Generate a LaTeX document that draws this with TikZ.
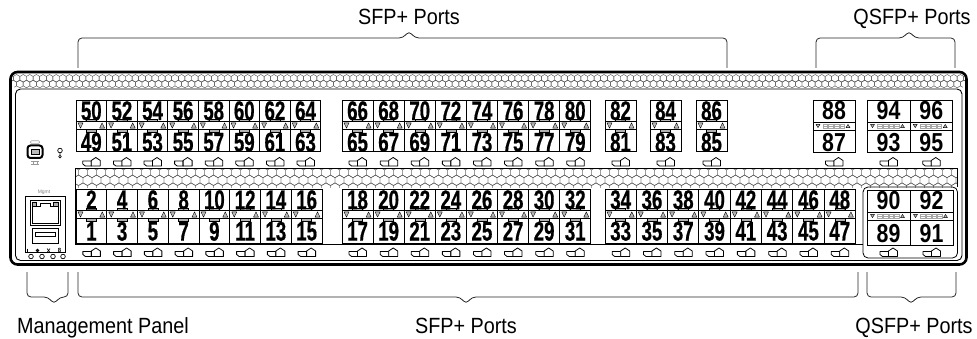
\documentclass[tikz,border=0pt]{standalone}
\usepackage{fontspec}
\setmainfont{Liberation Sans}
\newfontfamily\numfont{Liberation Sans}[FakeStretch=0.69,FakeBold=0.6]
\newfontfamily\qnumfont{Liberation Sans}[FakeStretch=0.82]
\newfontfamily\lblfont{Liberation Sans}[FakeStretch=0.9]
\newcommand\porticon[2]{%
\draw[icon] (#1-8.5,#2-5) -- (#1-8.5,#2-2) -- (#1-6,#2) -- (#1,#2) -- (#1,#2-5) -- cycle;
\draw[icon] (#1,#2) -- (#1,#2-5.5) -- (#1+4.5,#2-8.5) -- (#1+9,#2-5.5) -- (#1+9,#2) -- cycle;
}
\newcommand\sfpcell[7]{%
\pgfmathsetmacro\xa{#1}\pgfmathsetmacro\xb{#1+#2}\pgfmathsetmacro\xc{#1+#2/2}%
\pgfmathsetmacro\ya{#3}\pgfmathsetmacro\yb{#3+21.5}\pgfmathsetmacro\yc{#3+29.5}\pgfmathsetmacro\ym{#3+25.5}%
\draw[cell] (\xa,\ya) rectangle (\xb,#4);
\draw[cell] (\xa,\yb) -- (\xb,\yb) (\xa,\yc) -- (\xb,\yc);
\draw[led] (\xc-5,\yb-2.4) rectangle (\xc+5,\yb);
\draw[led] (\xc-5,\yc) rectangle (\xc+5,\yc+2.4);
\draw[tri] (\xa+2,\ym-2.6) -- (\xa+7,\ym-2.6) -- (\xa+4.5,\ym+2.6) -- cycle;
\draw[tri] (\xb-2,\ym+2.6) -- (\xb-7,\ym+2.6) -- (\xb-4.5,\ym-2.6) -- cycle;
\node[numtxt] (p#5) at (\xc,\ya+10.8) {#5};
\node[numtxt] (p#6) at (\xc,\ya+42.3) {#6};
\porticon{\xc}{#7}%
}
\newcommand\qsfpcell[7]{%
\pgfmathsetmacro\xa{#1}\pgfmathsetmacro\xb{#1+#2}\pgfmathsetmacro\xc{#1+#2/2}%
\pgfmathsetmacro\ya{#3}\pgfmathsetmacro\yb{#3+22}\pgfmathsetmacro\yc{#3+30}\pgfmathsetmacro\ym{#3+26}%
\pgfmathsetmacro\yn{(#3+30+#4)/2+1.5}%
\draw[cell] (\xa,\ya) rectangle (\xb,#4);
\draw[cell] (\xa,\yb) -- (\xb,\yb) (\xa,\yc) -- (\xb,\yc);
\draw[tri] (\xc-18,\ym-1.6) -- (\xc-14,\ym-1.6) -- (\xc-16,\ym+1.6) -- cycle;
\draw[tri] (\xc+12,\ym+1.6) -- (\xc+16,\ym+1.6) -- (\xc+14,\ym-1.6) -- cycle;
\foreach \k in {0,...,3} {\draw[seg] (\xc-11+5.6*\k,\ym-2) rectangle ++(4.6,4) (\xc-11+5.6*\k,\ym) -- ++(4.6,0);}
\node[qnumtxt] (p#5) at (\xc,\ya+11) {#5};
\node[qnumtxt] (p#6) at (\xc,\yn) {#6};
\porticon{\xc}{#7}%
}
\begin{document}
\begin{tikzpicture}[x=1pt,y=-1pt,
  cell/.style={draw=black, line width=0.9pt},
  led/.style={draw=black, fill=gray!60, line width=0.4pt},
  tri/.style={draw=black, fill=gray!55, line width=0.4pt, line join=round},
  seg/.style={draw=gray!70, line width=0.4pt},
  icon/.style={draw=black, fill=white, line width=0.8pt, line join=round},
  numtxt/.style={font=\numfont\bfseries\fontsize{27}{27}\selectfont, inner sep=0pt},
  qnumtxt/.style={font=\qnumfont\bfseries\fontsize{26}{26}\selectfont, inner sep=0pt},
  hexline/.style={draw=black!65, line width=0.45pt},
  bracket/.style={draw=black!85, line width=0.8pt, rounded corners=4pt},
  lbl/.style={font=\lblfont\fontsize{22}{22}\selectfont, inner sep=0pt, anchor=base},
  thinline/.style={draw=black, line width=0.8pt}]
\path[use as bounding box] (0,0) rectangle (977,339);
% top hex band
\begin{scope}
\clip[rounded corners=6pt] (11,73) rectangle (966,88);
\foreach \row/\off in {0/0,1/3.3} {
  \foreach \k in {0,...,146} {
    \draw[hexline] ({10+\off+6.6*\k},{78.3+5.7*\row}) +(30:3.8) -- +(90:3.8) -- +(150:3.8) -- +(210:3.8) -- +(270:3.8) -- +(330:3.8) -- cycle;
  }
}
\end{scope}
% chassis
\draw[line width=2.6pt, rounded corners=7pt] (10.5,72) rectangle (966.5,264.5);
\draw[line width=0.9pt, rounded corners=5pt] (15.5,89) rectangle (962,260.5);
% lower hex band
\begin{scope}
\clip (75.5,168.5) rectangle (957.5,187.3);
\foreach \row/\off in {0/0,1/4.5,2/0} {
  \foreach \k in {0,...,99} {
    \draw[hexline] ({74+\off+9*\k},{172.5+7.8*\row}) +(30:5.2) -- +(90:5.2) -- +(150:5.2) -- +(210:5.2) -- +(270:5.2) -- +(330:5.2) -- cycle;
  }
}
\end{scope}
\draw[thinline] (75,244) -- (75,168) -- (957.5,168) -- (957.5,187);
\draw[thinline] (75,244) -- (863,244);
\draw[thinline, rounded corners=5pt] (863,187) rectangle (957.5,258);
% upper SFP groups
\foreach \i in {0,...,7} {
  \pgfmathtruncatemacro\ptop{50+2*\i}\pgfmathtruncatemacro\pbot{49+2*\i}
  \sfpcell{76+30.6*\i}{30.6}{100}{151}{\ptop}{\pbot}{166}
}
\foreach \i in {0,...,7} {
  \pgfmathtruncatemacro\ptop{66+2*\i}\pgfmathtruncatemacro\pbot{65+2*\i}
  \sfpcell{342+31.1*\i}{31.1}{100}{151}{\ptop}{\pbot}{166}
}
\foreach \xx/\ptop/\pbot in {605/82/81,650/84/83,696/86/85} {
  \sfpcell{\xx}{31}{100}{151}{\ptop}{\pbot}{166}
}
% lower SFP groups
\foreach \i in {0,...,7} {
  \pgfmathtruncatemacro\ptop{2+2*\i}\pgfmathtruncatemacro\pbot{1+2*\i}
  \sfpcell{76+30.75*\i}{30.75}{189}{243}{\ptop}{\pbot}{256.5}
}
\foreach \i in {0,...,7} {
  \pgfmathtruncatemacro\ptop{18+2*\i}\pgfmathtruncatemacro\pbot{17+2*\i}
  \sfpcell{342+31.1*\i}{31.1}{189}{243}{\ptop}{\pbot}{256.5}
}
\foreach \i in {0,...,7} {
  \pgfmathtruncatemacro\ptop{34+2*\i}\pgfmathtruncatemacro\pbot{33+2*\i}
  \sfpcell{605+31.3*\i}{31.3}{189}{243}{\ptop}{\pbot}{256.5}
}
% QSFP
\qsfpcell{813}{42}{100}{152}{88}{87}{166}
\qsfpcell{867}{43}{100}{152}{94}{93}{166}
\qsfpcell{910}{42.5}{100}{152}{96}{95}{166}
\qsfpcell{867}{43}{190}{245}{90}{89}{256.5}
\qsfpcell{910}{43}{190}{245}{92}{91}{256.5}
% management: console + reset
\draw[gray!70, line width=0.6pt, rounded corners=1pt] (30.5,140.8) rectangle (39.5,143.4);
\draw[line width=2pt, rounded corners=3pt] (27.5,145.5) rectangle (42.5,158);
\draw[fill=gray!55, line width=0.6pt] (31,149.5) rectangle (39,154);
\draw[gray!80, line width=0.5pt] (31,161.5) -- (39,161.5) (31,164.5) -- (39,164.5) (33,161.5) -- (33,164.5) (37,161.5) -- (37,164.5);
\draw[line width=0.7pt] (60,150.5) circle (2.3) (60,152.8) -- (60,155.3);
\draw[line width=0.6pt] (60,156.6) circle (1.3);
% management: mgmt port
\node[font=\fontsize{5}{5}\selectfont, text=gray, inner sep=0pt] (mgmtlbl) at (44,192) {Mgmt};
\draw[line width=1pt] (25,197) rectangle (65,252);
\draw[line width=0.9pt] (30,200) rectangle (60,225);
\draw[fill=gray!60, line width=0.4pt] (32,202) rectangle (36.5,206.5) (53.5,202) rectangle (58,206.5);
\draw[line width=0.7pt] (32,206.5) -- (32,223) -- (58,223) -- (58,206.5) (36.5,206.5) -- (40,206.5) -- (40,203) -- (50,203) -- (50,206.5) -- (53.5,206.5);
\draw[line width=1pt] (32,229) rectangle (58,243);
\draw[line width=0.6pt] (35,232) rectangle (55,236);
\foreach \lx in {31,42,53,63} {\draw[line width=0.7pt, fill=white] (\lx,256.5) circle (2.3);}
\draw[line width=0.7pt] (27.5,248.5) -- (27.5,253);
\draw[line width=0.5pt] (37.5,250.5) circle (1.6) (35.9,250.5) -- (39.1,250.5) (37.5,248.9) -- (37.5,252.1);
\draw[line width=0.6pt] (47,248.5) -- (50,252.5) (47,252.5) -- (50,248.5);
\node[font=\bfseries\fontsize{6}{6}\selectfont, inner sep=0pt] (led4) at (59.5,250.5) {8};
% brackets
\draw[bracket] (78,68) -- (78,38) -- (403,38) -- (409,31) -- (415,38) -- (727,38) -- (727,68);
\draw[bracket] (816,68) -- (816,38) -- (903,38) -- (909,31) -- (915,38) -- (955,38) -- (955,68);
\draw[bracket] (27,272) -- (27,297) -- (48,297) -- (54,304) -- (60,297) -- (68,297) -- (68,272);
\draw[bracket] (78,272) -- (78,297) -- (460,297) -- (466,304) -- (472,297) -- (858,297) -- (858,272);
\draw[bracket] (867,272) -- (867,297) -- (905,297) -- (911,304) -- (917,297) -- (956,297) -- (956,272);
% labels
\node[lbl] (tsfp) at (409,25) {SFP+ Ports};
\node[lbl] (tqsfp) at (912,25) {QSFP+ Ports};
\node[lbl] (bmgmt) at (103,333) {Management Panel};
\node[lbl] (bsfp) at (466,333) {SFP+ Ports};
\node[lbl] (bqsfp) at (914,333) {QSFP+ Ports};
\end{tikzpicture}
\end{document}
